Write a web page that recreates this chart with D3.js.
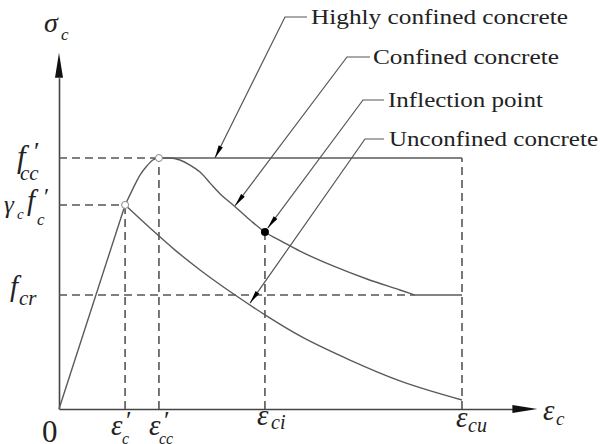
<!DOCTYPE html>
<html>
<head>
<meta charset="utf-8">
<script src="https://cdn.jsdelivr.net/npm/d3@7"></script>
</head>
<body style="margin:0;background:#fff">
<div id="chart"></div>
<script>
// strain normalised to eps_cu = 1, stress normalised to f'cc = 1
const epsC = 0.164, epsCC = 0.248, epsCI = 0.511, epsCU = 1.0;
const fcPeak = 0.813, fccPeak = 1.0, fcr = 0.454, fInflect = 0.705;

const ascending = [[0, 0], [0.164, 0.813]];
const confinedCurve = [
  [0.164, 0.813], [0.176, 0.853], [0.189, 0.896], [0.201, 0.932],
  [0.218, 0.968], [0.233, 0.992], [0.248, 1.0], [0.275, 1.0], [0.300, 0.992],
  [0.325, 0.972], [0.350, 0.944], [0.375, 0.900], [0.400, 0.857], [0.432, 0.813],
  [0.474, 0.753], [0.511, 0.705], [0.556, 0.665], [0.598, 0.629], [0.680, 0.570],
  [0.764, 0.518], [0.846, 0.474], [0.883, 0.454]
];
const unconfinedCurve = [
  [0.164, 0.813], [0.226, 0.721], [0.288, 0.633], [0.350, 0.554], [0.437, 0.454],
  [0.519, 0.367], [0.598, 0.291], [0.722, 0.195], [0.846, 0.112], [1.0, 0.036]
];
const residualEnd = 0.883;

// annotation targets (strain, stress)
const notes = ['Highly confined concrete', 'Confined concrete', 'Inflection point', 'Unconfined concrete'];
const noteTargets = [[0.387, 1.0], [0.437, 0.81], [0.518, 0.721], [0.474, 0.422]];

const width = 601, height = 444;
const serif = '"Liberation Serif"';
const svg = d3.select('#chart').append('svg')
  .attr('width', width)
  .attr('height', height);

let x = d3.scaleLinear().domain([0, 1]).range([59, 462]);
let y = d3.scaleLinear().domain([0, 1]).range([409, 158]);

const lineCol = '#5a5a5a';

// axes (no ticks, only the domain line)
let xAxisScale = d3.scaleLinear().domain([0, 1.125]).range([x(0), x(1.125)]);
let yAxisScale = d3.scaleLinear().domain([0, 1.32]).range([y(0), y(1.32)]);
svg.append('g')
  .attr('transform', `translate(0,${y(0)})`)
  .call(d3.axisBottom(xAxisScale).tickValues([]).tickSizeOuter(0))
  .select('.domain').attr('stroke', '#444').attr('stroke-width', 1.6);
svg.append('g')
  .attr('transform', `translate(${x(0)},0)`)
  .call(d3.axisLeft(yAxisScale).tickValues([]).tickSizeOuter(0))
  .select('.domain').attr('stroke', '#444').attr('stroke-width', 1.6);

// axis arrowheads
let xa = x(1.125), ya = y(1.32);
svg.append('path')
  .attr('d', `M${xa},${y(0) - 4}L${xa + 25},${y(0)}L${xa},${y(0) + 4}Z`)
  .attr('fill', '#111');
svg.append('path')
  .attr('d', `M${x(0) - 4},${ya}L${x(0)},${ya - 25}L${x(0) + 4},${ya}Z`)
  .attr('fill', '#111');

// dashed guide lines
let dashes = [
  [0, fccPeak, epsCC, fccPeak],
  [0, fcPeak, epsC, fcPeak],
  [0, fcr, residualEnd, fcr],
  [epsC, 0, epsC, fcPeak],
  [epsCC, 0, epsCC, fccPeak],
  [epsCI, 0, epsCI, fInflect],
  [epsCU, 0, epsCU, fccPeak]
];
svg.selectAll('.dash')
  .data(dashes)
  .enter().append('line')
  .attr('class', 'dash')
  .attr('x1', d => x(d[0])).attr('y1', d => y(d[1]))
  .attr('x2', d => x(d[2])).attr('y2', d => y(d[3]))
  .attr('stroke', '#555')
  .attr('stroke-width', 1.6)
  .attr('stroke-dasharray', '8,5');

// curves
let line = d3.line().x(d => x(d[0])).y(d => y(d[1])).curve(d3.curveMonotoneX);
svg.append('path')
  .attr('d', d3.line().x(d => x(d[0])).y(d => y(d[1]))(ascending))
  .attr('fill', 'none').attr('stroke', lineCol).attr('stroke-width', 1.4);
svg.append('path')
  .attr('d', line(confinedCurve))
  .attr('fill', 'none').attr('stroke', lineCol).attr('stroke-width', 1.4);
svg.append('path')
  .attr('d', line(unconfinedCurve))
  .attr('fill', 'none').attr('stroke', lineCol).attr('stroke-width', 1.4);
// highly confined plateau
svg.append('line')
  .attr('x1', x(epsCC)).attr('y1', y(fccPeak))
  .attr('x2', x(epsCU)).attr('y2', y(fccPeak))
  .attr('stroke', lineCol).attr('stroke-width', 1.4);
// residual stress branch
svg.append('line')
  .attr('x1', x(residualEnd)).attr('y1', y(fcr))
  .attr('x2', x(epsCU)).attr('y2', y(fcr))
  .attr('stroke', lineCol).attr('stroke-width', 1.4);

// points
svg.selectAll('.peak')
  .data([[epsC, fcPeak], [epsCC, fccPeak]])
  .enter().append('circle')
  .attr('cx', d => x(d[0])).attr('cy', d => y(d[1]))
  .attr('r', 3.5)
  .attr('fill', '#fff').attr('stroke', '#888').attr('stroke-width', 1);
svg.append('circle')
  .attr('cx', x(epsCI)).attr('cy', y(fInflect))
  .attr('r', 4).attr('fill', '#000');

// leaders
let noteLayout = [
  {elbow: [285, 17], end: 307, tx: 311, ty: 24, w: 257},
  {elbow: [347, 57], end: 370, tx: 373, ty: 64, w: 186},
  {elbow: [363, 100], end: 384, tx: 388, ty: 107, w: 155},
  {elbow: [365, 139], end: 384, tx: 389, ty: 146, w: 209}
];
notes.forEach(function (label, i) {
  let L = noteLayout[i];
  let tip = [x(noteTargets[i][0]), y(noteTargets[i][1])];
  svg.append('path')
    .attr('d', `M${L.end},${L.elbow[1]}L${L.elbow[0]},${L.elbow[1]}L${tip[0]},${tip[1]}`)
    .attr('fill', 'none').attr('stroke', '#555').attr('stroke-width', 1.2);
  let ang = Math.atan2(tip[1] - L.elbow[1], tip[0] - L.elbow[0]);
  let len = 13, hw = 2.3;
  let bx = tip[0] - len * Math.cos(ang), by = tip[1] - len * Math.sin(ang);
  let px = -Math.sin(ang) * hw, py = Math.cos(ang) * hw;
  svg.append('path')
    .attr('d', `M${tip[0]},${tip[1]}L${bx + px},${by + py}L${bx - px},${by - py}Z`)
    .attr('fill', '#000');
  svg.append('text')
    .attr('x', L.tx).attr('y', L.ty)
    .attr('font-size', 22)
    .style('font-family', serif)
    .attr('fill', '#222')
    .attr('textLength', L.w)
    .attr('lengthAdjust', 'spacingAndGlyphs')
    .text(label);
});

// symbol labels
function sym(t, px, py, size, italic) {
  svg.append('text')
    .attr('x', px).attr('y', py)
    .attr('font-size', size)
    .style('font-family', serif)
    .attr('font-style', italic ? 'italic' : 'normal')
    .attr('fill', '#222')
    .text(t);
}
// stress axis
sym('σ', 44, 32, 28, true); sym('c', 61, 40, 17, true);
sym('f', 17, 167, 31, true); sym('′', 34, 160, 26, false); sym('cc', 20, 180, 21, true);
sym('γ', 4, 213, 25, true); sym('c', 17, 219, 15, true);
sym('f', 27, 210, 29, true); sym('′', 44, 204, 24, false); sym('c', 37, 225, 17, true);
sym('f', 10, 296, 29, true); sym('cr', 19, 305, 21, true);
// strain axis
sym('0', 42, 442, 31, false);
sym('ε', 111, 435, 29, true); sym('′', 126, 429, 26, false); sym('c', 122, 444, 16, true);
sym('ε', 149, 435, 29, true); sym('′', 164, 429, 26, false); sym('cc', 159, 444, 16, true);
sym('ε', 257, 425, 29, true); sym('ci', 271, 429, 20, true);
sym('ε', 456, 427, 29, true); sym('cu', 468, 432, 20, true);
sym('ε', 543, 420, 29, true); sym('c', 556, 425, 19, true);
</script>
</body>
</html>
